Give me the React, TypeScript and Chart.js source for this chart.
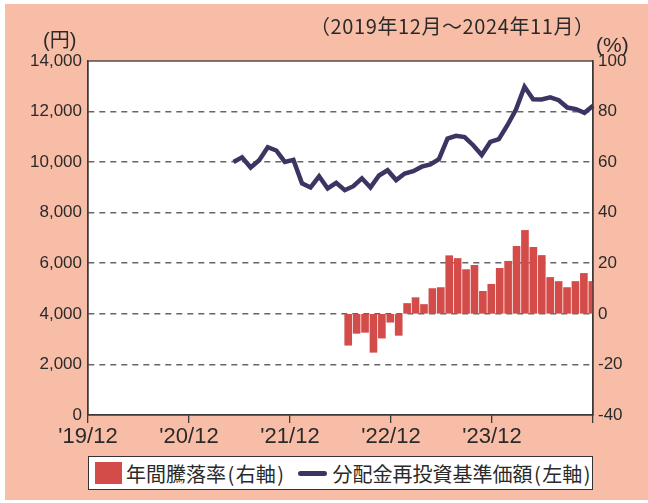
import { useEffect, useRef } from 'react';
import { Chart, registerables } from 'chart.js';
Chart.register(...registerables);

const months = [
  '2019/12',
  '2020/01','2020/02','2020/03','2020/04','2020/05','2020/06','2020/07','2020/08','2020/09','2020/10','2020/11','2020/12',
  '2021/01','2021/02','2021/03','2021/04','2021/05','2021/06','2021/07','2021/08','2021/09','2021/10','2021/11','2021/12',
  '2022/01','2022/02','2022/03','2022/04','2022/05','2022/06','2022/07','2022/08','2022/09','2022/10','2022/11','2022/12',
  '2023/01','2023/02','2023/03','2023/04','2023/05','2023/06','2023/07','2023/08','2023/09','2023/10','2023/11','2023/12',
  '2024/01','2024/02','2024/03','2024/04','2024/05','2024/06','2024/07','2024/08','2024/09','2024/10','2024/11',
];

const xTickLabels = ["'19/12", "'20/12", "'21/12", "'22/12", "'23/12", ''];

// 分配金再投資基準価額 (円), from 2021/05
const navStart = '2021/05';
const navValues = [
  10010, 10190, 9790, 10080, 10590, 10460, 10010, 10090, 9160, 9000,
  9440, 8960, 9180, 8890, 9050, 9360, 9000, 9470, 9680, 9290,
  9550, 9640, 9820, 9910, 10120, 10930, 11040, 10990, 10670, 10280,
  10800, 10910, 11460, 12080, 12980, 12490, 12480, 12560, 12450, 12160,
  12100, 11950, 12230,
];

// 年間騰落率 (%), from 2022/06
const returnStart = '2022/06';
const returnValues = [
  -12.4, -7.7, -7.3, -15.2, -9.6, -3.3, -8.5, 4.1, 6.4, 3.7,
  10.0, 10.4, 23.0, 21.9, 17.5, 19.2, 8.9, 11.7, 18.0, 20.8,
  26.7, 33.0, 26.3, 23.1, 14.4, 12.8, 10.4, 12.8, 16.0, 12.8,
];

const leftTicks = { min: 0, max: 14000, step: 2000 };
const rightTicks = { min: -40, max: 100, step: 20 };

const pad = (start: string, vals: number[]) => {
  const i = months.indexOf(start);
  return [...Array(i).fill(null), ...vals];
};

const frame = {
  id: 'frame',
  beforeDraw(chart: any) {
    const { ctx, chartArea: a } = chart;
    ctx.save();
    ctx.fillStyle = '#ffffff';
    ctx.fillRect(a.left, a.top, a.right - a.left, a.bottom - a.top);
    ctx.restore();
  },
  afterDraw(chart: any) {
    const { ctx, chartArea: a } = chart;
    ctx.save();
    ctx.strokeStyle = '#3a3a3a';
    ctx.lineWidth = 1.3;
    ctx.strokeRect(a.left, a.top, a.right - a.left, a.bottom - a.top);
    ctx.restore();
  },
};

export default function App() {
  const ref = useRef<HTMLCanvasElement>(null);
  useEffect(() => {
    if (!ref.current) return;
    const gridColor = (c: any) =>
      c.tick && (c.tick.value === leftTicks.min || c.tick.value === leftTicks.max) ? 'rgba(0,0,0,0)' : '#666666';
    const chart = new Chart(ref.current, {
      type: 'bar',
      data: {
        datasets: [
          {
            type: 'line',
            label: '分配金再投資基準価額(左軸)',
            data: pad(navStart, navValues),
            xAxisID: 'xLine',
            yAxisID: 'y',
            borderColor: '#3b3563',
            borderWidth: 4.5,
            pointRadius: 0,
            tension: 0,
            spanGaps: false,
          } as any,
          {
            type: 'bar',
            label: '年間騰落率(右軸)',
            data: pad(returnStart, returnValues),
            xAxisID: 'xBar',
            yAxisID: 'y2',
            backgroundColor: '#d44c49',
            barThickness: 7,
          } as any,
        ],
      },
      options: {
        responsive: false,
        animation: false,
        devicePixelRatio: 1,
        layout: { padding: { top: 57, left: 0, right: 0, bottom: 0 } },
        plugins: { legend: { display: false }, tooltip: { enabled: false } },
        scales: {
          x: {
            type: 'linear',
            position: 'bottom',
            min: 0,
            max: 60,
            offset: false,
            afterFit: (s: any) => { s.height = 85; },
            ticks: {
              stepSize: 12,
              autoSkip: false,
              maxRotation: 0,
              padding: 1,
              color: '#2a2a2a',
              font: { family: 'Liberation Sans', size: 22 },
              callback: (v: any) => xTickLabels[Math.round(Number(v) / 12)] ?? '',
            },
            grid: { display: true, offset: false, drawOnChartArea: false, drawTicks: true, tickLength: 8, color: '#3a3a3a', lineWidth: 1.3 },
            border: { display: true, color: '#3a3a3a', width: 1.3 },
          },
          xBar: { type: 'category', labels: months, offset: true, display: false },
          xLine: { type: 'category', labels: months, offset: false, display: false, grid: { offset: false } },
          y: {
            type: 'linear',
            position: 'left',
            min: leftTicks.min,
            max: leftTicks.max,
            afterFit: (s: any) => { s.width = 83; },
            ticks: {
              stepSize: leftTicks.step,
              padding: 6,
              color: '#2a2a2a',
              font: { family: 'Liberation Sans', size: 17 },
              callback: (v: any) => Number(v).toLocaleString('en-US'),
            },
            grid: { drawOnChartArea: true, drawTicks: false, color: gridColor, lineWidth: 1.6 },
            border: { display: true, color: '#3a3a3a', width: 1.3, dash: [6, 5] },
          },
          y2: {
            type: 'linear',
            position: 'right',
            min: rightTicks.min,
            max: rightTicks.max,
            afterFit: (s: any) => { s.width = 55; },
            ticks: {
              stepSize: rightTicks.step,
              padding: 5,
              color: '#2a2a2a',
              font: { family: 'Liberation Sans', size: 17 },
            },
            grid: { drawOnChartArea: false, drawTicks: false },
            border: { display: true, color: '#3a3a3a', width: 1.3 },
          },
        },
      },
      plugins: [frame],
    });
    return () => chart.destroy();
  }, []);

  const jp = '"Liberation Sans", "Noto Sans CJK JP", sans-serif';
  const paren = { margin: '0 1.5px' };
  return (
    <div style={{ position: 'absolute', left: 0, top: 0, width: 648, height: 503, background: '#ffffff', overflow: 'hidden' }}>
      <div style={{ position: 'absolute', left: 5, top: 4, width: 643, height: 496, background: '#f8bda6' }}>
        <canvas ref={ref} width={643} height={496} style={{ position: 'absolute', left: 0, top: 0, width: 643, height: 496 }} />
        <div style={{ position: 'absolute', left: 38, top: 24, fontFamily: jp, fontSize: 20, lineHeight: '24px', color: '#2a2a2a' }}>(円)</div>
        <div style={{ position: 'absolute', left: 591, top: 29, fontFamily: jp, fontSize: 21, lineHeight: '24px', color: '#2a2a2a' }}>(%)</div>
        <div style={{ position: 'absolute', left: 305, top: 10, fontFamily: '"Noto Sans CJK JP", sans-serif', fontSize: 20, letterSpacing: '0.6px', lineHeight: '24px', color: '#2a2a2a', whiteSpace: 'nowrap' }}>（2019年12月～2024年11月）</div>
        <div style={{ position: 'absolute', left: 83, top: 452, width: 505, height: 34, boxSizing: 'border-box', border: '1.5px solid #333', background: '#ffffff', display: 'flex', alignItems: 'center', paddingLeft: 6, fontFamily: '"Noto Sans CJK JP", sans-serif', fontSize: 20, color: '#2a2a2a', whiteSpace: 'nowrap' }}>
          <span style={{ display: 'inline-block', width: 27, height: 22, background: '#d44c49', marginRight: 4 }} />
          <span>年間騰落率<span style={paren}>(</span>右軸<span style={paren}>)</span></span>
          <span style={{ display: 'inline-block', width: 30, height: 5, borderRadius: 3, background: '#3b3563', marginLeft: 12, marginRight: 5 }} />
          <span>分配金再投資基準価額<span style={paren}>(</span>左軸<span style={paren}>)</span></span>
        </div>
      </div>
    </div>
  );
}
